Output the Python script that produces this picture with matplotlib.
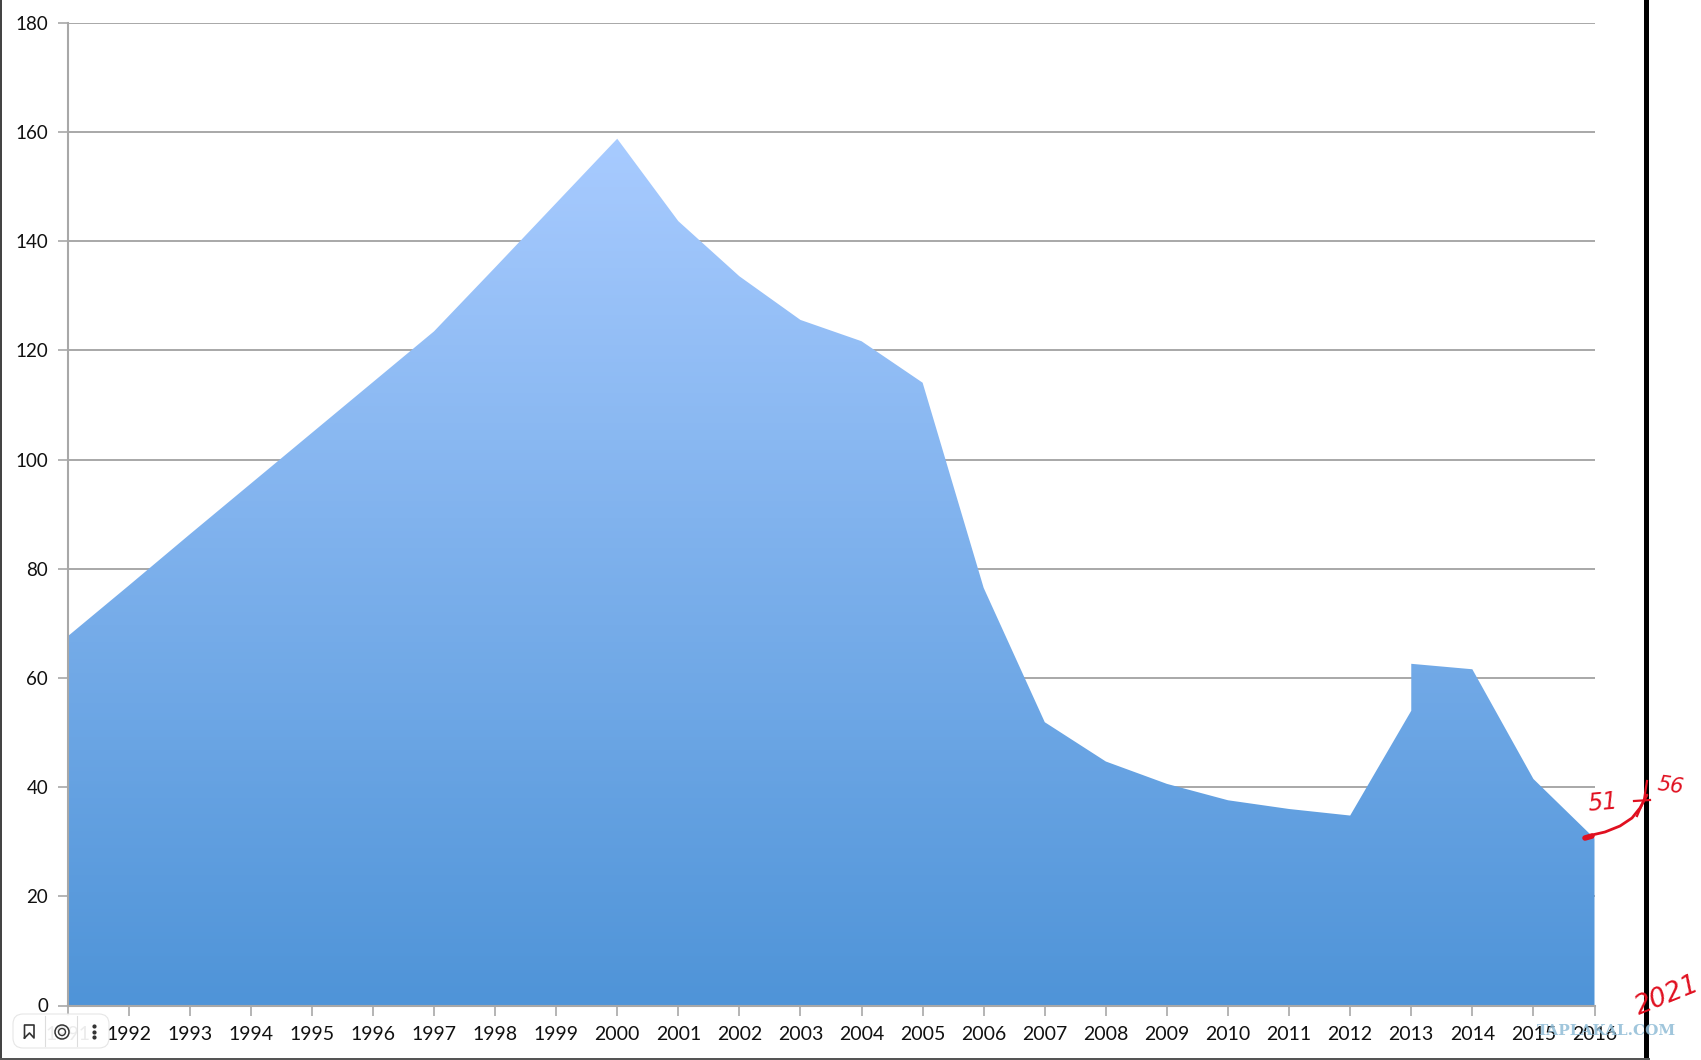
import numpy as np
import matplotlib
matplotlib.use("Agg")
import matplotlib.pyplot as plt
from matplotlib.colors import LinearSegmentedColormap
from matplotlib.patches import FancyBboxPatch, Rectangle, PathPatch, Circle
from matplotlib.path import Path

plt.rcParams['font.family'] = ['Lato', 'DejaVu Sans']

# Data (2013 appears twice: the chart jumps vertically there)
years = [1991, 1992, 1993, 1994, 1995, 1996, 1997, 1998, 1999, 2000, 2001, 2002, 2003,
         2004, 2005, 2006, 2007, 2008, 2009, 2010, 2011, 2012, 2013, 2013, 2014, 2015, 2016]
values = [67.6, 76.9, 86.3, 95.6, 104.9, 114.2, 123.5, 135.2, 147, 158.8, 143.7, 133.6, 125.6,
          121.7, 114.1, 76.5, 51.9, 44.7, 40.6, 37.6, 36, 34.8, 54, 62.6, 61.6, 41.5, 30.6]
tick_years = list(range(1991, 2017))
tick_labels = [str(y) for y in tick_years]
y_ticks = list(range(0, 181, 20))

W, H = 1701, 1060
fig = plt.figure(figsize=(W / 100, H / 100), dpi=100, facecolor='white')
L, R, T, B = 67.5, 1594.5, 23, 1005.5
ax = fig.add_axes([L / W, 1 - B / H, (R - L) / W, (B - T) / H])
ax.set_xlim(1991, 2016)
ax.set_ylim(0, 180)

GRAY = '#a8a8a8'
ax.set_yticks(y_ticks)
ax.set_xticks(tick_years)
ax.set_xticklabels(tick_labels)
ax.grid(axis='y', color=GRAY, lw=1.4, zorder=1)
ax.set_axisbelow(True)
ax.tick_params(axis='y', length=7, width=1.2, color=GRAY, labelsize=13.5, pad=7, labelcolor='#111111')
ax.tick_params(axis='x', length=7, width=1.2, color=GRAY, labelsize=14, pad=8, labelcolor='#111111')
for s in ('top', 'right'):
    ax.spines[s].set_visible(False)
for s in ('left', 'bottom'):
    ax.spines[s].set_color(GRAY)
    ax.spines[s].set_linewidth(1.5)

# Gradient area
cmap = LinearSegmentedColormap.from_list('g', ['#4f94d8', '#a8cbff'])
top = max(values)
grad = np.linspace(0, 1, 256).reshape(-1, 1)
im = ax.imshow(grad, origin='lower', extent=[1991, 2016, 0, top], aspect='auto',
               cmap=cmap, zorder=2, interpolation='bilinear')
verts = [(years[0], 0)] + list(zip(years, values)) + [(years[-1], 0), (years[0], 0)]
clip = Path(verts)
im.set_clip_path(PathPatch(clip, transform=ax.transData))
ax.set_xlim(1991, 2016)
ax.set_ylim(0, 180)

# Overlay in pixel coordinates: frame, pen marks, watermark, viewer toolbar
ov = fig.add_axes([0, 0, 1, 1], facecolor='none')
ov.set_xlim(0, W)
ov.set_ylim(H, 0)
ov.axis('off')
ov.add_patch(Rectangle((1644, 0), 5, H, color='black', lw=0))
ov.add_patch(Rectangle((0, 0), 1.5, H, color='#444444', lw=0))
ov.add_patch(Rectangle((0, 1058), 1650, 2, color='#555555', lw=0))

RED = '#e01020'
cx = [1585, 1592, 1605, 1620, 1632, 1640, 1647]
cy = [838, 835, 832, 826, 818, 808, 795]
ov.plot(cx, cy, color=RED, lw=2, solid_capstyle='round')
ov.plot(cx[:2], [838, 836], color=RED, lw=4, solid_capstyle='round')
ov.plot([1634, 1650], [801, 800], color=RED, lw=1.6)
ov.plot([1647, 1644, 1637], [781, 800, 816], color=RED, lw=1.6)
ov.text(1603, 803, '51', color=RED, fontsize=17, rotation=5, ha='center', va='center',
        family=['DejaVu Sans'], fontstyle='italic')
ov.text(1671, 786, '56', color=RED, fontsize=15, rotation=-8, ha='center', va='center',
        family=['DejaVu Sans'], fontstyle='italic')
ov.text(1667, 996, '2021', color=RED, fontsize=19, rotation=22, ha='center', va='center',
        family=['DejaVu Sans'], fontstyle='italic')

ov.text(1606, 1031, 'TAPLAKAL.COM', color='#8fbcd6', alpha=0.85, fontsize=11, fontweight='bold',
        ha='center', va='center', family=['DejaVu Serif'])

box = FancyBboxPatch((22, 1023), 78, 16, boxstyle='round,pad=9,rounding_size=10',
                     fc='white', ec='#e4e4e4', lw=0.8, alpha=0.92, zorder=5)
ov.add_patch(box)
ov.plot([45, 45], [1016, 1046], color='#dddddd', lw=0.8, zorder=6)
ov.plot([77, 77], [1016, 1046], color='#dddddd', lw=0.8, zorder=6)
ov.plot([24.5, 24.5, 34, 34, 29.5, 24.5], [1038, 1025, 1025, 1038, 1033, 1038],
        color='#333333', lw=1.2, zorder=6)
ov.add_patch(Circle((62, 1032), 7, fc='none', ec='#333333', lw=1.1, zorder=6))
ov.add_patch(Circle((62, 1032), 3.5, fc='none', ec='#333333', lw=1, zorder=6))
ov.scatter([94, 94, 94], [1026, 1032, 1037], s=4, color='#333333', zorder=6)

fig.savefig('out.png', dpi=100)
